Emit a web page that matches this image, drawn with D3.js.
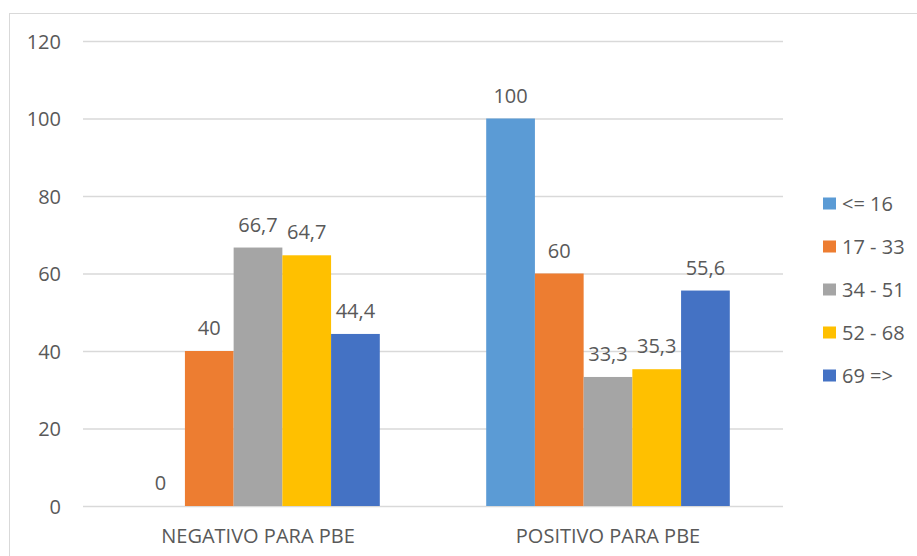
<!DOCTYPE html>
<html>
<head>
<meta charset="utf-8">
<script src="https://cdn.jsdelivr.net/npm/d3@7"></script>
<style>
  body { margin: 0; background: #fff; }
  svg { display: block; font-family: "Open Sans", sans-serif; }
</style>
</head>
<body>
<svg id="chart" width="917" height="556"></svg>
<script>
// categories, series and values
var categories = ["NEGATIVO PARA PBE", "POSITIVO PARA PBE"];
var series = ["<= 16", "17 - 33", "34 - 51", "52 - 68", "69 =>"];
var colors = ["#5b9bd5", "#ed7d31", "#a5a5a5", "#ffc000", "#4472c4"];
var negativo = [0, 40, 66.7, 64.7, 44.4];
var positivo = [100, 60, 33.3, 35.3, 55.6];
var yTicks = [0, 20, 40, 60, 80, 100, 120];

var values = [negativo, positivo];

var svg = d3.select("#chart");
var textColor = "#595959";
var font = "'Open Sans', sans-serif";

// outer frame (only top and left edges show inside the window)
svg.append("rect")
  .attr("x", 9.5).attr("y", 13.5)
  .attr("width", 920).attr("height", 560)
  .attr("fill", "none")
  .attr("stroke", "#d9d9d9");

var x0 = d3.scaleBand()
  .domain(categories)
  .range([83, 783]);

var x1 = d3.scaleBand()
  .domain(series)
  .range([0, x0.bandwidth() * 0.696]);

var y = d3.scaleLinear()
  .domain([0, 120])
  .range([506, 41]);

// gridlines
svg.append("g")
  .selectAll("line")
  .data(yTicks)
  .enter()
  .append("line")
    .attr("x1", 83).attr("x2", 783)
    .attr("y1", function(d){ return y(d) + 0.5 })
    .attr("y2", function(d){ return y(d) + 0.5 })
    .attr("stroke", "#d9d9d9")
    .attr("stroke-width", 1.3);

// y axis labels
var yAxis = d3.axisLeft(y).tickValues(yTicks).tickSize(0).tickPadding(0);
var gy = svg.append("g")
  .attr("transform", "translate(61,0)")
  .call(yAxis);
gy.select(".domain").remove();
gy.selectAll("text")
  .attr("fill", textColor)
  .attr("dy", "0.36em")
  .style("font-size", "20px")
  .style("font-family", font);

// bars
var groups = svg.append("g")
  .selectAll("g")
  .data(categories)
  .enter()
  .append("g")
    .attr("transform", function(d){
      return "translate(" + (x0(d) + (x0.bandwidth() - x1.range()[1]) / 2) + ",0)";
    });

groups.selectAll("rect")
  .data(function(d, i){ return values[i].map(function(v, j){ return {s: series[j], v: v, c: colors[j]} }) })
  .enter()
  .append("rect")
    .attr("x", function(d){ return x1(d.s) })
    .attr("width", x1.bandwidth())
    .attr("y", function(d){ return y(d.v) })
    .attr("height", function(d){ return y(0) - y(d.v) })
    .attr("fill", function(d){ return d.c });

// data labels
groups.selectAll("text")
  .data(function(d, i){ return values[i].map(function(v, j){ return {s: series[j], v: v} }) })
  .enter()
  .append("text")
    .attr("x", function(d){ return x1(d.s) + x1.bandwidth() / 2 })
    .attr("y", function(d){ return y(d.v) - 16 })
    .attr("text-anchor", "middle")
    .attr("fill", textColor)
    .style("font-size", "20px")
    .text(function(d){ return String(d.v).replace(".", ",") });

// x axis labels
var xAxis = d3.axisBottom(x0).tickSize(0).tickPadding(0);
var gx = svg.append("g")
  .attr("transform", "translate(0,528.5)")
  .call(xAxis);
gx.select(".domain").remove();
gx.selectAll("text")
  .attr("fill", textColor)
  .style("font-size", "20px")
  .style("font-family", font);

// legend
var legend = svg.append("g")
  .selectAll("g")
  .data(series)
  .enter()
  .append("g")
    .attr("transform", function(d, i){ return "translate(823," + (203.5 + i * 43) + ")" });

legend.append("rect")
  .attr("x", 0).attr("y", -6)
  .attr("width", 13).attr("height", 12)
  .attr("fill", function(d, i){ return colors[i] });

legend.append("text")
  .attr("x", 19)
  .attr("y", 7)
  .attr("fill", textColor)
  .style("font-size", "20px")
  .text(function(d){ return d });
</script>
</body>
</html>
